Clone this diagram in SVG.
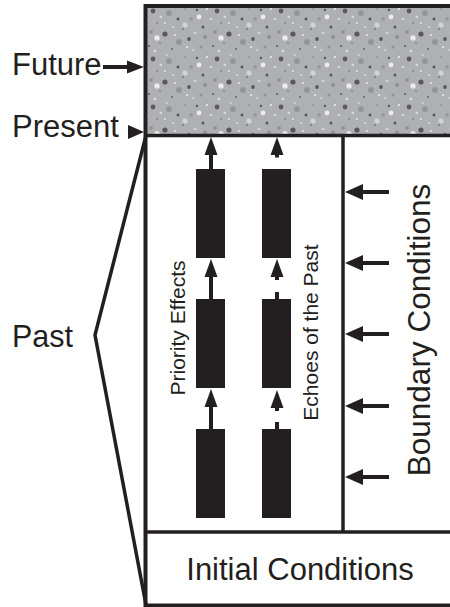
<svg xmlns="http://www.w3.org/2000/svg" width="450" height="607" viewBox="0 0 450 607">
<defs>
<style>
.ln{stroke:#231f20;fill:none}
.bar{fill:#231f20}
.hd{fill:#231f20}
.lbl{font-family:"Liberation Sans",Arial,sans-serif;fill:#231f20}
.d{fill:#5a5a5c}.m{fill:#939496}.l{fill:#d3d4d6}.w{fill:#ececed}
</style>
<pattern id="speck" x="145" y="5" width="64" height="48" patternUnits="userSpaceOnUse">
<rect width="64" height="48" fill="#aeb0b3"/>
<circle class="d" cx="8" cy="6" r="2.4"/>
<circle class="d" cx="33" cy="14" r="1.5"/>
<circle class="d" cx="52" cy="5" r="1.2"/>
<circle class="d" cx="20" cy="29" r="2.6"/>
<circle class="d" cx="44" cy="34" r="1.9"/>
<circle class="d" cx="4" cy="41" r="1"/>
<circle class="d" cx="58" cy="22" r="1.5"/>
<circle class="d" cx="27" cy="44" r="0.9"/>
<circle class="d" cx="12" cy="18" r="0.8"/>
<circle class="d" cx="38" cy="24" r="0.8"/>
<circle class="m" cx="24" cy="8" r="2.8"/>
<circle class="m" cx="46" cy="14" r="1.8"/>
<circle class="m" cx="6" cy="27" r="2"/>
<circle class="m" cx="34" cy="37" r="3"/>
<circle class="m" cx="56" cy="42" r="1.6"/>
<circle class="m" cx="15" cy="38" r="1.3"/>
<circle class="m" cx="60" cy="32" r="2.2"/>
<circle class="m" cx="40" cy="4" r="1"/>
<circle class="l" cx="16" cy="12" r="1.4"/>
<circle class="l" cx="40" cy="20" r="2.5"/>
<circle class="l" cx="2" cy="14" r="1.3"/>
<circle class="l" cx="28" cy="22" r="1.1"/>
<circle class="l" cx="50" cy="28" r="1.4"/>
<circle class="l" cx="10" cy="46" r="1.6"/>
<circle class="l" cx="48" cy="45" r="1"/>
<circle class="l" cx="22" cy="2" r="1"/>
<circle class="w" cx="12" cy="33" r="2.7"/>
<circle class="w" cx="54" cy="12" r="2.4"/>
<circle class="w" cx="30" cy="30" r="1"/>
<circle class="w" cx="62" cy="4" r="1.1"/>
<circle class="w" cx="42" cy="42" r="1.1"/>
<circle class="w" cx="20" cy="18" r="0.9"/>
</pattern>
<path id="up" d="M0,0 L-6.5,18 L6.5,18 Z"/>
<path id="lf" d="M0,0 L18,-8 L18,8 Z"/>
</defs>

<g id="future-zone">
<rect x="145.5" y="6" width="312" height="129.5" fill="url(#speck)"/>
</g>

<g id="frame">
<rect class="ln" x="145.5" y="6" width="312" height="599.5" stroke-width="4"/>
<line class="ln" x1="145.5" y1="135.5" x2="455" y2="135.5" stroke-width="3.5"/>
<line class="ln" x1="343" y1="135.5" x2="343" y2="532" stroke-width="3.5"/>
<line class="ln" x1="145.5" y1="532" x2="455" y2="532" stroke-width="3.5"/>
</g>

<g id="bars">
<rect id="pe-bar1" class="bar" x="196" y="169" width="29" height="89"/>
<rect id="pe-bar2" class="bar" x="196" y="299" width="29" height="89"/>
<rect id="pe-bar3" class="bar" x="196" y="429" width="29" height="89"/>
<rect id="ep-bar1" class="bar" x="262" y="169" width="29" height="89"/>
<rect id="ep-bar2" class="bar" x="262" y="299" width="29" height="89"/>
<rect id="ep-bar3" class="bar" x="262" y="429" width="29" height="89"/>
</g>

<g id="connectors">
<line class="ln" x1="211" y1="153" x2="211" y2="169" stroke-width="4"/>
<use href="#up" class="hd" x="211" y="137"/>
<line class="ln" x1="211" y1="275" x2="211" y2="299" stroke-width="4"/>
<use href="#up" class="hd" x="211" y="259"/>
<line class="ln" x1="211" y1="405" x2="211" y2="429" stroke-width="4"/>
<use href="#up" class="hd" x="211" y="389"/>

<line class="ln" x1="277" y1="152" x2="277" y2="157.5" stroke-width="4"/>
<use href="#up" class="hd" x="277" y="137"/>
<line class="ln" x1="277" y1="274" x2="277" y2="280" stroke-width="4"/>
<use href="#up" class="hd" x="277" y="259"/>
<line class="ln" x1="277" y1="292" x2="277" y2="299" stroke-width="4"/>
<line class="ln" x1="277" y1="405" x2="277" y2="411" stroke-width="4"/>
<use href="#up" class="hd" x="277" y="390"/>
<line class="ln" x1="277" y1="422" x2="277" y2="429" stroke-width="4"/>

<line class="ln" x1="361" y1="192" x2="389" y2="192" stroke-width="4"/>
<use href="#lf" class="hd" x="345" y="192"/>
<line class="ln" x1="361" y1="263" x2="389" y2="263" stroke-width="4"/>
<use href="#lf" class="hd" x="345" y="263"/>
<line class="ln" x1="361" y1="334" x2="389" y2="334" stroke-width="4"/>
<use href="#lf" class="hd" x="345" y="334"/>
<line class="ln" x1="361" y1="406" x2="389" y2="406" stroke-width="4"/>
<use href="#lf" class="hd" x="345" y="406"/>
<line class="ln" x1="361" y1="477" x2="389" y2="477" stroke-width="4"/>
<use href="#lf" class="hd" x="345" y="477"/>

<line class="ln" x1="103" y1="67" x2="130" y2="67" stroke-width="4"/>
<path class="hd" d="M144,67 L127,60.5 L127,73.5 Z"/>
<path class="hd" d="M144,132 L128,125 L128,139 Z"/>

<polyline class="ln" points="146,135.5 95,335 146,605" stroke-width="3.5" stroke-linejoin="miter"/>
</g>

<g id="labels">
<text class="lbl" x="12" y="75" font-size="31">Future</text>
<text class="lbl" x="12" y="137" font-size="31">Present</text>
<text class="lbl" x="12" y="347" font-size="30.5">Past</text>
<text class="lbl" x="300" y="580" font-size="31" text-anchor="middle">Initial Conditions</text>
<text class="lbl" transform="translate(430,330) rotate(-90)" font-size="31.5" text-anchor="middle">Boundary Conditions</text>
<text class="lbl" transform="translate(185,328) rotate(-90)" font-size="21" text-anchor="middle">Priority Effects</text>
<text class="lbl" transform="translate(318,332.5) rotate(-90)" font-size="21" text-anchor="middle">Echoes of the Past</text>
</g>
</svg>
